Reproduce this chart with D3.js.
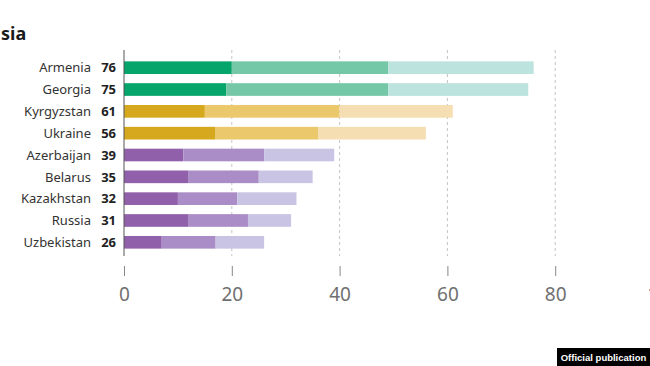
<!DOCTYPE html>
<html><head><meta charset="utf-8">
<script src="https://cdn.jsdelivr.net/npm/d3@7"></script>
<style>
body{margin:0;background:#fff;}
svg{display:block;font-family:"Noto Sans",sans-serif;}
</style></head>
<body><svg id="c" width="650" height="366"></svg>
<script>
const countries = ["Armenia","Georgia","Kyrgyzstan","Ukraine","Azerbaijan","Belarus","Kazakhstan","Russia","Uzbekistan"];
const totals = [76,75,61,56,39,35,32,31,26];
const seg1 = [20,19,15,17,11,12,10,12,7];
const seg2 = [29,30,25,19,15,13,11,11,10];
const seg3 = [27,26,21,20,13,10,11,8,9];
const groups = ["green","green","yellow","yellow","purple","purple","purple","purple","purple"];
const ticks = [0,20,40,60,80,100];

const palette = {
  green:["#05a56b","#74c8a7","#bce3dd"],
  yellow:["#d6a81e","#ecc86c","#f5deb2"],
  purple:["#9160aa","#aa8cc6","#c9c4e3"]
};

const svg = d3.select("#c");
const x = d3.scaleLinear().domain([0,100]).range([124,663]);
const y = d3.scaleBand().domain(countries).range([57,253]).paddingInner(0.42).paddingOuter(0.2);

// title fragment
svg.append("text").attr("x",1).attr("y",40).attr("font-size",18).attr("font-weight",700).attr("fill","#1a1a1a").text("sia");

// gridlines
svg.append("g").selectAll("line").data(ticks.filter(d=>d>0)).join("line")
  .attr("x1",d=>x(d)).attr("x2",d=>x(d)).attr("y1",50).attr("y2",256)
  .attr("stroke","#c4c4c4").attr("stroke-width",1).attr("stroke-dasharray","3,3");

// bars
const data = countries.map((c,i)=>({c, g:groups[i], s:[seg1[i],seg2[i],seg3[i]]}));
data.forEach(d=>{
  let acc=0;
  d.s.forEach((v,k)=>{
    svg.append("rect").attr("x",x(acc)).attr("y",y(d.c)).attr("width",x(acc+v)-x(acc)).attr("height",y.bandwidth())
      .attr("fill",palette[d.g][k]);
    acc+=v;
  });
});

// zero axis line
svg.append("line").attr("x1",x(0)).attr("x2",x(0)).attr("y1",50).attr("y2",256).attr("stroke","#555").attr("stroke-width",1);

// labels
svg.append("g").selectAll("text").data(countries).join("text")
  .attr("x",91).attr("y",d=>y(d)+y.bandwidth()/2).attr("dy","0.36em")
  .attr("text-anchor","end").attr("font-size",13).attr("fill","#333").text(d=>d);
svg.append("g").selectAll("text").data(countries).join("text")
  .attr("x",116).attr("y",d=>y(d)+y.bandwidth()/2).attr("dy","0.36em")
  .attr("text-anchor","end").attr("font-size",13).attr("font-weight",700).attr("fill","#222").text((d,i)=>totals[i]);

// bottom axis
const axis = d3.axisBottom(x).tickValues(ticks).tickSize(10).tickFormat(d3.format("d"));
const ag = svg.append("g").attr("transform","translate(0,266)").call(axis);
ag.select(".domain").remove();
ag.selectAll(".tick line").attr("stroke","#888");
ag.selectAll(".tick text").attr("y",22).attr("font-size",19).attr("fill","#707070")
  .style("font-family","'Noto Sans',sans-serif");

// badge
svg.append("rect").attr("x",557).attr("y",348).attr("width",93).attr("height",18).attr("fill","#000");
svg.append("text").attr("x",603.5).attr("y",361).attr("text-anchor","middle").attr("font-size",9.5)
  .attr("font-weight",700).attr("fill","#fff").style("font-family","'Liberation Sans',Arial,sans-serif").text("Official publication");
</script></body></html>
